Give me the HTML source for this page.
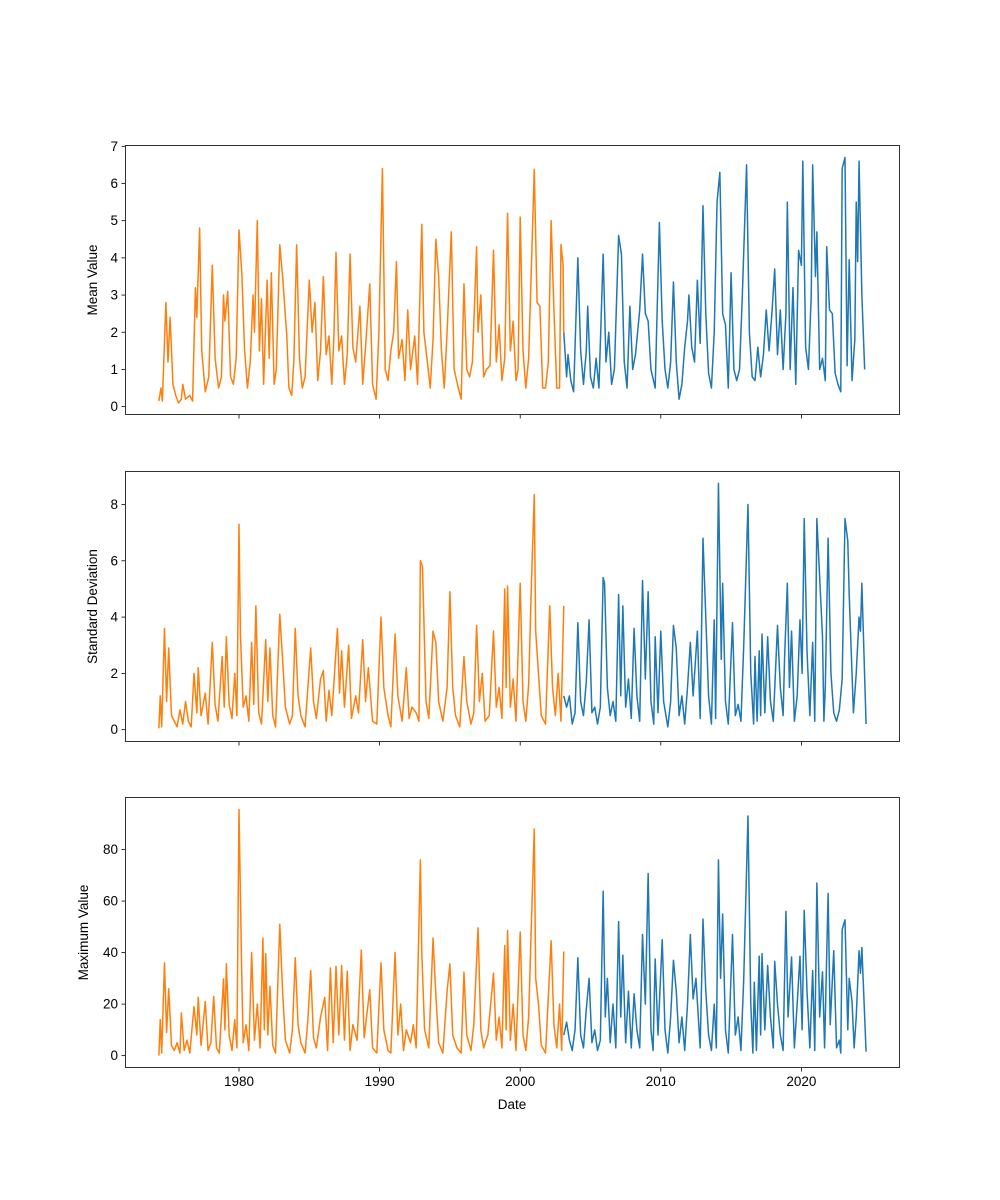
<!DOCTYPE html>
<html><head><meta charset="utf-8"><title>Time series statistics</title>
<style>
html,body{margin:0;padding:0;background:#fff;}
svg{display:block;font-family:"Liberation Sans","DejaVu Sans",sans-serif;}
</style></head>
<body>
<svg id="fig" width="1000" height="1200" viewBox="0 0 1000 1200"></svg>
<script>
// ---- data (decimal year, value) ----
const meanOrange=[[1974.3,0.15],[1974.45,0.5],[1974.55,0.15],[1974.8,2.8],[1974.95,1.2],[1975.1,2.4],[1975.3,0.6],[1975.5,0.3],[1975.7,0.1],[1975.9,0.2],[1976.0,0.6],[1976.2,0.2],[1976.5,0.3],[1976.7,0.15],[1976.9,3.2],[1977.0,2.4],[1977.2,4.8],[1977.35,1.5],[1977.6,0.4],[1977.85,0.8],[1978.1,3.8],[1978.3,1.3],[1978.55,0.5],[1978.75,0.8],[1978.9,3.0],[1979.0,2.3],[1979.2,3.1],[1979.4,0.8],[1979.6,0.6],[1979.8,1.3],[1980.0,4.75],[1980.2,3.6],[1980.4,1.5],[1980.6,0.5],[1980.8,1.2],[1981.0,3.0],[1981.1,2.0],[1981.3,5.0],[1981.45,1.5],[1981.6,2.9],[1981.75,0.6],[1982.0,3.4],[1982.15,1.3],[1982.3,3.6],[1982.5,0.6],[1982.65,1.0],[1982.9,4.35],[1983.1,3.5],[1983.4,1.9],[1983.55,0.5],[1983.75,0.3],[1983.9,1.2],[1984.1,4.35],[1984.3,1.3],[1984.5,0.5],[1984.7,0.8],[1985.0,3.4],[1985.2,2.0],[1985.4,2.8],[1985.6,0.7],[1985.8,1.5],[1986.0,3.5],[1986.2,1.4],[1986.4,1.9],[1986.6,0.6],[1986.75,1.9],[1986.9,4.15],[1987.1,1.5],[1987.3,1.9],[1987.5,0.6],[1987.7,1.4],[1987.9,4.1],[1988.1,1.6],[1988.3,1.2],[1988.6,2.7],[1988.8,0.6],[1989.0,1.6],[1989.3,3.3],[1989.5,0.6],[1989.75,0.2],[1989.95,2.0],[1990.2,6.4],[1990.4,1.0],[1990.6,0.7],[1990.8,1.5],[1991.0,2.0],[1991.2,3.9],[1991.35,1.3],[1991.6,1.8],[1991.8,0.7],[1992.0,2.6],[1992.2,1.0],[1992.5,1.9],[1992.7,0.6],[1993.0,4.9],[1993.15,2.0],[1993.4,1.2],[1993.6,0.5],[1993.8,1.8],[1994.0,4.5],[1994.2,3.5],[1994.4,1.5],[1994.6,0.5],[1994.8,2.0],[1995.1,4.7],[1995.3,1.0],[1995.6,0.5],[1995.8,0.2],[1996.0,3.3],[1996.2,1.0],[1996.4,0.8],[1996.6,1.2],[1996.9,4.3],[1997.0,2.0],[1997.2,3.0],[1997.4,0.8],[1997.6,1.0],[1997.85,1.1],[1998.1,4.2],[1998.3,1.2],[1998.5,2.2],[1998.7,0.7],[1998.9,1.3],[1999.1,5.2],[1999.3,1.5],[1999.5,2.3],[1999.7,0.7],[1999.85,1.0],[2000.0,5.1],[2000.2,1.5],[2000.4,0.5],[2000.6,1.3],[2000.8,3.8],[2001.0,6.38],[2001.2,2.8],[2001.4,2.7],[2001.6,0.5],[2001.8,0.5],[2002.0,1.2],[2002.2,5.0],[2002.4,2.6],[2002.6,0.5],[2002.8,0.5],[2002.9,4.36],[2003.05,3.8],[2003.1,2.0]];
const meanBlue=[[2003.1,2.0],[2003.3,0.8],[2003.4,1.4],[2003.6,0.7],[2003.8,0.4],[2004.1,4.0],[2004.3,1.5],[2004.5,0.6],[2004.7,1.5],[2004.8,2.7],[2005.0,0.8],[2005.2,0.5],[2005.4,1.3],[2005.6,0.5],[2005.9,4.1],[2006.1,1.2],[2006.3,2.0],[2006.5,0.6],[2006.7,1.0],[2007.0,4.6],[2007.2,4.1],[2007.4,1.2],[2007.6,0.5],[2007.8,2.7],[2008.0,1.0],[2008.2,1.4],[2008.5,2.6],[2008.7,4.1],[2008.9,2.5],[2009.1,2.3],[2009.3,1.0],[2009.6,0.5],[2009.9,4.95],[2010.1,2.3],[2010.3,1.0],[2010.5,0.5],[2010.7,1.2],[2010.9,3.35],[2011.1,1.2],[2011.3,0.2],[2011.5,0.6],[2011.7,1.6],[2011.9,2.3],[2012.0,3.0],[2012.2,1.6],[2012.4,1.2],[2012.6,3.4],[2012.8,1.7],[2013.0,5.4],[2013.2,2.5],[2013.4,0.9],[2013.6,0.5],[2013.8,2.0],[2014.0,5.5],[2014.2,6.3],[2014.4,2.5],[2014.6,2.2],[2014.8,0.5],[2015.0,3.6],[2015.2,1.0],[2015.4,0.7],[2015.6,1.0],[2015.8,3.0],[2016.1,6.5],[2016.3,2.0],[2016.5,0.8],[2016.7,0.7],[2016.9,1.6],[2017.1,0.8],[2017.3,1.4],[2017.5,2.6],[2017.7,1.5],[2017.9,2.5],[2018.1,3.7],[2018.3,1.4],[2018.5,2.6],[2018.7,1.0],[2018.9,2.5],[2019.0,5.5],[2019.2,1.0],[2019.4,3.2],[2019.6,0.6],[2019.8,4.2],[2020.0,3.8],[2020.1,6.6],[2020.3,1.6],[2020.5,1.0],[2020.7,3.0],[2020.8,6.5],[2021.0,3.5],[2021.1,4.7],[2021.3,1.0],[2021.5,1.3],[2021.7,0.7],[2021.8,4.3],[2022.0,2.6],[2022.2,2.5],[2022.4,0.9],[2022.6,0.6],[2022.8,0.4],[2022.9,6.4],[2023.1,6.7],[2023.25,1.1],[2023.4,3.95],[2023.6,0.7],[2023.8,1.8],[2023.9,5.5],[2024.0,3.9],[2024.1,6.6],[2024.3,3.0],[2024.5,1.0]];
const stdOrange=[[1974.3,0.05],[1974.4,1.2],[1974.5,0.1],[1974.7,3.6],[1974.85,1.0],[1975.0,2.9],[1975.2,0.5],[1975.4,0.3],[1975.6,0.1],[1975.8,0.7],[1976.0,0.2],[1976.2,1.0],[1976.4,0.3],[1976.6,0.1],[1976.8,2.0],[1977.0,0.6],[1977.1,2.2],[1977.3,0.5],[1977.6,1.3],[1977.8,0.2],[1978.1,3.1],[1978.3,0.9],[1978.5,0.3],[1978.8,2.6],[1978.95,0.8],[1979.1,3.3],[1979.3,0.9],[1979.5,0.4],[1979.7,2.0],[1979.85,0.5],[1980.0,7.3],[1980.1,3.4],[1980.3,0.8],[1980.5,1.2],[1980.7,0.3],[1980.9,3.1],[1981.05,0.9],[1981.2,4.4],[1981.4,0.6],[1981.6,0.2],[1981.9,3.2],[1982.05,1.0],[1982.2,2.9],[1982.4,0.5],[1982.6,0.1],[1982.9,4.1],[1983.1,2.5],[1983.3,0.8],[1983.6,0.2],[1983.8,0.5],[1984.0,3.6],[1984.2,1.2],[1984.4,0.5],[1984.7,0.1],[1984.9,1.5],[1985.1,2.9],[1985.3,1.0],[1985.5,0.4],[1985.8,1.8],[1986.0,2.1],[1986.2,0.3],[1986.4,1.4],[1986.6,0.5],[1987.0,3.6],[1987.15,1.3],[1987.3,2.8],[1987.5,0.8],[1987.8,3.0],[1988.0,0.4],[1988.3,1.2],[1988.5,0.6],[1988.8,3.2],[1989.0,1.0],[1989.2,2.2],[1989.5,0.3],[1989.8,0.2],[1990.1,4.0],[1990.3,1.5],[1990.6,0.5],[1990.8,0.1],[1991.1,3.4],[1991.3,1.2],[1991.6,0.3],[1991.9,2.2],[1992.1,0.4],[1992.3,0.8],[1992.6,0.6],[1992.8,0.3],[1992.9,6.0],[1993.05,5.8],[1993.3,1.0],[1993.5,0.4],[1993.8,3.5],[1994.0,3.1],[1994.2,1.0],[1994.5,0.3],[1994.8,1.5],[1995.0,4.9],[1995.2,1.5],[1995.4,0.5],[1995.7,0.1],[1996.0,2.6],[1996.2,1.0],[1996.5,0.2],[1996.7,0.6],[1996.9,3.7],[1997.1,1.0],[1997.3,2.0],[1997.5,0.3],[1997.8,0.5],[1998.1,3.5],[1998.3,0.8],[1998.5,1.5],[1998.7,0.4],[1998.9,5.0],[1999.0,1.5],[1999.1,5.1],[1999.3,0.8],[1999.5,1.8],[1999.7,0.3],[2000.0,5.2],[2000.2,1.0],[2000.4,0.3],[2000.6,1.6],[2000.8,5.2],[2001.0,8.35],[2001.1,3.5],[2001.3,2.0],[2001.5,0.5],[2001.8,0.2],[2002.1,4.4],[2002.3,1.5],[2002.5,0.5],[2002.7,2.0],[2002.9,0.3],[2003.1,4.4]];
const stdBlue=[[2003.1,1.2],[2003.3,0.8],[2003.5,1.2],[2003.7,0.2],[2003.9,0.6],[2004.1,3.8],[2004.3,1.0],[2004.5,0.5],[2004.7,1.7],[2004.9,3.9],[2005.1,0.6],[2005.3,0.8],[2005.5,0.2],[2005.7,0.8],[2005.9,5.4],[2006.0,5.2],[2006.2,1.5],[2006.4,0.5],[2006.6,1.0],[2006.8,0.3],[2007.0,4.8],[2007.15,1.2],[2007.3,4.4],[2007.5,0.8],[2007.7,1.8],[2007.9,0.4],[2008.1,3.6],[2008.3,1.2],[2008.5,0.3],[2008.7,5.3],[2008.9,1.8],[2009.1,4.9],[2009.3,1.0],[2009.5,0.2],[2009.6,3.3],[2009.8,0.6],[2010.0,3.5],[2010.2,1.0],[2010.5,0.1],[2010.7,1.0],[2010.9,3.7],[2011.1,2.9],[2011.3,0.5],[2011.5,1.2],[2011.7,0.2],[2011.9,1.5],[2012.1,3.1],[2012.3,1.2],[2012.6,3.5],[2012.8,0.4],[2013.0,6.8],[2013.2,4.0],[2013.4,1.2],[2013.6,0.2],[2013.8,3.9],[2013.9,0.4],[2014.1,8.75],[2014.3,2.5],[2014.4,5.2],[2014.6,1.0],[2014.8,0.2],[2015.1,3.8],[2015.3,0.5],[2015.5,0.9],[2015.7,0.3],[2015.9,3.0],[2016.2,8.0],[2016.4,2.0],[2016.6,0.2],[2016.7,2.6],[2016.85,0.3],[2017.0,2.8],[2017.1,0.5],[2017.2,3.4],[2017.4,0.6],[2017.6,3.3],[2017.8,1.0],[2018.0,0.3],[2018.3,3.7],[2018.5,1.5],[2018.7,0.5],[2018.8,2.5],[2019.0,5.2],[2019.15,1.5],[2019.3,3.5],[2019.5,0.3],[2019.7,1.2],[2019.9,3.9],[2020.05,2.0],[2020.2,7.5],[2020.4,2.8],[2020.6,0.5],[2020.8,3.1],[2020.95,0.3],[2021.1,7.5],[2021.3,5.4],[2021.5,3.3],[2021.6,0.3],[2021.7,1.5],[2021.9,6.8],[2022.1,2.0],[2022.3,0.6],[2022.5,0.3],[2022.7,0.7],[2022.9,1.8],[2023.1,7.5],[2023.3,6.7],[2023.4,4.8],[2023.6,2.0],[2023.7,0.6],[2023.9,2.0],[2024.1,4.0],[2024.2,3.5],[2024.3,5.2],[2024.6,0.2]];
const maxOrange=[[1974.3,0],[1974.4,14],[1974.5,1],[1974.7,36],[1974.85,9],[1975.0,26],[1975.2,4],[1975.4,2],[1975.6,5],[1975.8,1],[1975.9,16.6],[1976.1,2],[1976.3,6],[1976.5,1],[1976.8,19],[1977.0,8],[1977.1,22.6],[1977.3,4],[1977.6,21],[1977.8,2],[1978.0,5],[1978.2,23],[1978.4,3],[1978.6,1],[1978.9,29.8],[1979.0,10],[1979.1,35.6],[1979.3,8],[1979.5,2],[1979.7,14],[1979.85,3],[1980.0,95.6],[1980.2,29.8],[1980.3,5],[1980.5,12],[1980.7,2],[1980.9,40],[1981.1,6],[1981.3,20],[1981.5,3],[1981.7,45.6],[1981.8,10],[1981.9,39.6],[1982.05,8],[1982.2,27],[1982.4,4],[1982.6,1],[1982.9,51],[1983.1,25],[1983.3,6],[1983.6,1],[1983.8,10],[1984.0,38],[1984.2,12],[1984.4,5],[1984.7,1],[1984.9,14],[1985.1,33],[1985.3,7],[1985.5,3],[1985.8,15],[1986.1,22.6],[1986.3,2],[1986.5,34],[1986.7,5],[1986.9,34.7],[1987.1,8],[1987.3,35],[1987.5,6],[1987.7,32.8],[1987.9,2],[1988.1,12],[1988.4,6],[1988.7,41],[1988.9,7],[1989.3,25.6],[1989.5,3],[1989.8,1],[1990.1,36],[1990.3,10],[1990.6,2],[1990.8,1],[1991.1,40],[1991.3,8],[1991.5,20],[1991.7,2],[1991.9,10],[1992.2,5],[1992.4,12],[1992.6,3],[1992.9,76],[1993.0,40],[1993.2,10],[1993.5,3],[1993.8,45.6],[1994.0,23.6],[1994.2,5],[1994.5,1],[1994.8,25],[1995.0,35.6],[1995.2,8],[1995.5,3],[1995.8,1],[1996.0,32.4],[1996.2,8],[1996.5,2],[1996.7,12],[1997.0,49.6],[1997.2,10],[1997.4,3],[1997.7,8],[1998.1,32],[1998.3,6],[1998.5,15],[1998.7,3],[1998.9,42.7],[1999.0,10],[1999.1,48.6],[1999.3,6],[1999.5,20],[1999.7,2],[2000.0,48],[2000.2,8],[2000.4,2],[2000.6,15],[2000.8,52],[2001.0,88],[2001.1,30],[2001.3,20],[2001.5,4],[2001.8,1],[2002.2,44.6],[2002.4,12],[2002.6,3],[2002.8,20],[2002.95,2],[2003.1,40.4]];
const maxBlue=[[2003.1,8],[2003.3,13],[2003.5,6],[2003.7,2],[2003.9,10],[2004.1,38],[2004.3,8],[2004.5,3],[2004.7,18],[2004.9,30],[2005.1,5],[2005.3,10],[2005.5,2],[2005.7,6],[2005.9,63.8],[2006.05,15],[2006.2,30],[2006.4,5],[2006.6,20],[2006.8,3],[2007.0,52],[2007.15,15],[2007.3,39],[2007.5,5],[2007.7,25],[2007.9,3],[2008.1,24],[2008.3,10],[2008.5,3],[2008.7,47],[2008.9,20],[2009.1,70.7],[2009.3,10],[2009.45,2],[2009.6,37.5],[2009.8,8],[2010.1,45],[2010.3,10],[2010.5,1],[2010.7,15],[2010.9,37],[2011.1,25],[2011.3,5],[2011.5,15],[2011.7,2],[2011.9,20],[2012.1,47],[2012.3,22],[2012.5,30],[2012.8,3],[2013.0,53],[2013.2,25],[2013.4,8],[2013.6,2],[2013.8,20],[2013.95,3],[2014.1,76],[2014.25,30],[2014.4,55],[2014.6,10],[2014.8,1],[2015.1,47],[2015.3,8],[2015.5,15],[2015.7,2],[2015.9,30],[2016.2,93],[2016.4,20],[2016.55,1],[2016.65,28.5],[2016.8,2],[2017.0,38.6],[2017.1,8],[2017.2,39.6],[2017.4,10],[2017.6,35],[2017.8,15],[2018.0,3],[2018.1,36.6],[2018.3,20],[2018.5,8],[2018.7,2],[2018.9,56],[2019.05,15],[2019.3,38.3],[2019.5,3],[2019.7,20],[2019.9,38.6],[2020.05,10],[2020.2,56.4],[2020.4,25],[2020.6,3],[2020.8,33],[2020.95,2],[2021.1,67],[2021.3,15],[2021.5,32.5],[2021.65,3],[2021.9,63],[2022.05,12],[2022.3,40.7],[2022.5,3],[2022.7,6],[2022.8,1],[2022.9,49],[2023.1,52.7],[2023.3,10],[2023.4,30],[2023.6,21],[2023.75,3],[2023.9,15],[2024.1,40.7],[2024.2,32],[2024.3,42],[2024.6,1.5]];
const xTicks=[1980,1990,2000,2010,2020];
const meanTicks=[0,1,2,3,4,5,6,7];
const stdTicks=[0,2,4,6,8];
const maxTicks=[0,20,40,60,80];

const NS="http://www.w3.org/2000/svg";
const svg=document.getElementById('fig');
const L=125,R=900;
function xScale(yr){return 239+(yr-1980)*14.06;}
function mk(tag,attrs,parent){const e=document.createElementNS(NS,tag);for(const k in attrs)e.setAttribute(k,attrs[k]);(parent||svg).appendChild(e);return e;}

function panel(name,top,bottom,ymin,ymax,ticks,label,blue,orange,showX){
  const g=mk('g',{});
  
  
  const y=v=>bottom-(v-ymin)/(ymax-ymin)*(bottom-top);
  const cols=[['blue',blue,'#1f77b4'],['orange',orange,'#ff7f0e']];
  for(const [cn,data,col] of cols){
    const d=data.map((p,i)=>(i?'L':'M')+xScale(p[0]).toFixed(2)+','+y(p[1]).toFixed(2)).join('');
    const pth=mk('path',{d:d,fill:'none',stroke:col,'stroke-width':1.5,'stroke-linejoin':'round'},g);
    
    
  }
  const frame=mk('rect',{x:L+0.5,y:top+0.5,width:R-L-1,height:bottom-top-1,fill:'none',stroke:'#000','stroke-width':0.8},g);
  
  
  for(const t of ticks){
    const yy=y(t);
    mk('line',{x1:L-3.5,x2:L,y1:yy,y2:yy,stroke:'#000','stroke-width':0.8},g);
    const tx=mk('text',{x:L-7,y:yy+4.5,'text-anchor':'end','font-size':13.5,fill:'#000'},g);
    tx.textContent=t;
    
    
  }
  for(const t of xTicks){
    const xx=xScale(t);
    mk('line',{x1:xx,x2:xx,y1:bottom,y2:bottom+3.5,stroke:'#000','stroke-width':0.8},g);
    if(showX){
      const tx=mk('text',{x:xx,y:bottom+18,'text-anchor':'middle','font-size':13.5,fill:'#000'},g);
      tx.textContent=t;
      
      
    }
  }
  const cy=(top+bottom)/2;
  const lx=label==='Mean Value'?97:(label==='Maximum Value'?88:97);
  const yl=mk('text',{x:lx,y:cy,'text-anchor':'middle','font-size':13.5,fill:'#000',transform:'rotate(-90 '+lx+' '+cy+')'},g);
  yl.textContent=label;
  
  
}
panel('mean',145,415,-0.225,7.035,meanTicks,'Mean Value',meanBlue,meanOrange,false);
panel('std',471,742,-0.4375,9.19,stdTicks,'Standard Deviation',stdBlue,stdOrange,false);
panel('max',797,1068,-4.8,100.4,maxTicks,'Maximum Value',maxBlue,maxOrange,true);
const xl=mk('text',{x:512,y:1109,'text-anchor':'middle','font-size':13.5,fill:'#000'});
xl.textContent='Date';


</script>
</body></html>
